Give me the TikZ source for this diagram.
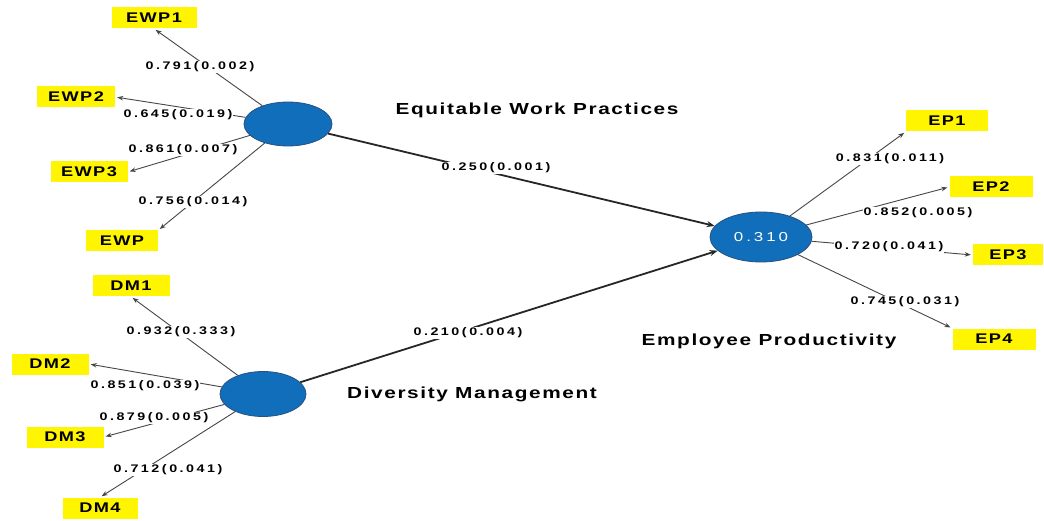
\documentclass[tikz,border=0pt]{standalone}
\usepackage{fontspec}
\setmainfont{Liberation Sans}
\newfontfamily\tfont[FakeStretch=1.3,LetterSpace=10]{Liberation Sans}
\newfontfamily\wtfont[FakeStretch=1.3,LetterSpace=23]{Liberation Sans}
\usetikzlibrary{shapes.geometric,arrows.meta}
\definecolor{lvblue}{RGB}{16,110,186}
\definecolor{lvedge}{RGB}{40,80,130}
\definecolor{indyellow}{RGB}{255,245,0}
\definecolor{loadgray}{RGB}{70,70,70}
\tikzset{
  lv/.style={ellipse, fill=lvblue, draw=lvedge, line width=0.8pt, inner sep=0pt},
  ind/.style={fill=indyellow, inner sep=0pt, minimum height=21pt,
              font=\tfont\bfseries\fontsize{14}{14}\selectfont},
  wt/.style={fill=white, inner sep=1pt, font=\wtfont\bfseries\fontsize{11}{11}\selectfont},
  ttl/.style={inner sep=0pt, font=\tfont\bfseries\fontsize{16}{16}\selectfont},
  load/.style={draw=loadgray, line width=0.9pt, shorten >=2pt,
               -{Stealth[length=6pt,width=4.5pt]}},
  struct/.style={draw=black!85, line width=1.8pt,
                 -{Stealth[length=8pt,width=6pt]}}
}
\begin{document}
\begin{tikzpicture}[x=1pt,y=-1pt]
\useasboundingbox[fill=white] (0,0) rectangle (1044,521);

% latent variables
\node[lv, minimum width=88pt, minimum height=44pt] (ewp) at (288,124) {};
\node[lv, minimum width=86pt, minimum height=45pt] (dm)  at (263,394) {};
\node[lv, minimum width=102pt, minimum height=50pt, text=white,
      font=\wtfont\fontsize{13}{13}\selectfont] (ep) at (761,237) {0.310};

% indicators
\node[ind, minimum width=85pt] (ewp1) at (154,18)  {EWP1};
\node[ind, minimum width=78pt] (ewp2) at (76,97)   {EWP2};
\node[ind, minimum width=77pt] (ewp3) at (89,172)  {EWP3};
\node[ind, minimum width=72pt] (ewp4) at (122,241) {EWP};
\node[ind, minimum width=77pt] (dm1)  at (131,286) {DM1};
\node[ind, minimum width=77pt] (dm2)  at (50,364)  {DM2};
\node[ind, minimum width=77pt] (dm3)  at (65,437)  {DM3};
\node[ind, minimum width=75pt] (dm4)  at (100,508) {DM4};
\node[ind, minimum width=82pt] (ep1)  at (947,121) {EP1};
\node[ind, minimum width=83pt] (ep2)  at (991,187) {EP2};
\node[ind, minimum width=70pt] (ep3)  at (1008,255) {EP3};
\node[ind, minimum width=83pt] (ep4)  at (994,339) {EP4};

% construct names
\node[ttl] (tewp) at (537,110) {Equitable Work Practices};
\node[ttl] (tdm)  at (472,394) {Diversity Management};
\node[ttl] (tep)  at (769,341) {Employee Productivity};

% outer loadings
\draw[load] (ewp) -- (ewp1.south);
\draw[load] (ewp) -- (ewp2.east);
\draw[load] (ewp) -- (ewp3.east);
\draw[load] (ewp) -- (ewp4.north east);
\draw[load] (dm) -- (dm1.south);
\draw[load] (dm) -- (dm2.east);
\draw[load] (dm) -- (dm3.east);
\draw[load] (dm) -- (dm4.north);
\draw[load] (ep) -- (ep1.south west);
\draw[load] (ep) -- (ep2.west);
\draw[load] (ep) -- (ep3.west);
\draw[load] (ep) -- (ep4.north west);

% structural paths
\draw[struct] (ewp) -- (ep);
\draw[struct] (dm) -- (ep);

% coefficient labels
\node[wt] (w1)  at (200,67)  {0.791(0.002)};
\node[wt] (w2)  at (178,115) {0.645(0.019)};
\node[wt] (w3)  at (183,150) {0.861(0.007)};
\node[wt] (w4)  at (193,202) {0.756(0.014)};
\node[wt] (w5)  at (181,332) {0.932(0.333)};
\node[wt] (w6)  at (145,386) {0.851(0.039)};
\node[wt] (w7)  at (154,418) {0.879(0.005)};
\node[wt] (w8)  at (168,470) {0.712(0.041)};
\node[wt] (w9)  at (890,159) {0.831(0.011)};
\node[wt] (w10) at (918,213) {0.852(0.005)};
\node[wt] (w11) at (889,247) {0.720(0.041)};
\node[wt] (w12) at (905,302) {0.745(0.031)};
\node[wt] (w13) at (496,168) {0.250(0.001)};
\node[wt] (w14) at (468,333) {0.210(0.004)};
\end{tikzpicture}
\end{document}
